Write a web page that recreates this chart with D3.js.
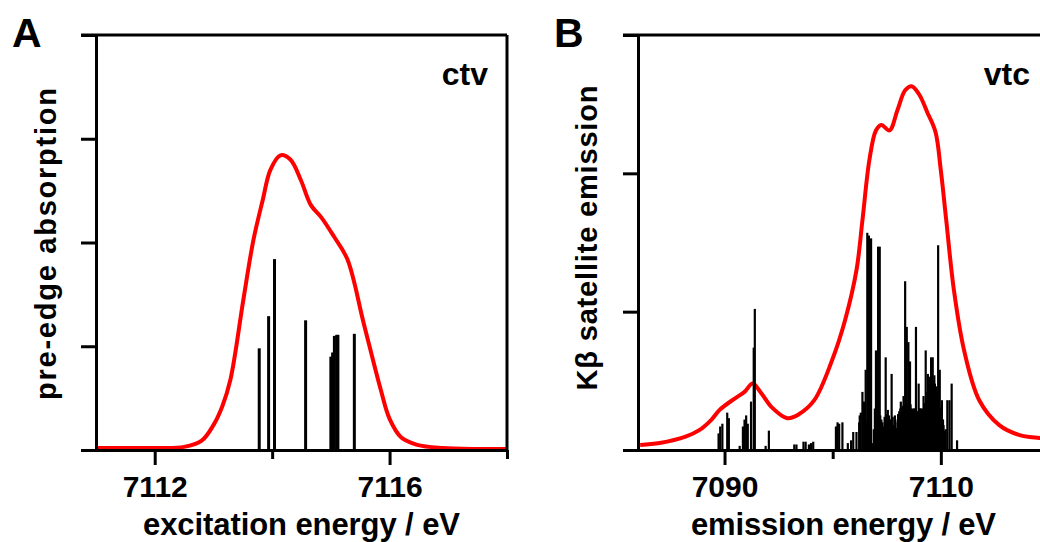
<!DOCTYPE html>
<html>
<head>
<meta charset="utf-8">
<script src="https://cdn.jsdelivr.net/npm/d3@7"></script>
<style>
  body { margin: 0; background: #fff; }
  svg text { font-family: "Liberation Sans", Arial, sans-serif; font-weight: bold; fill: #000; }
</style>
</head>
<body>
<div id="chart"></div>
<script>
// panel A: ctv pre-edge
const ctvStickE = [7113.78, 7113.94, 7114.04, 7114.57, 7115.00, 7115.03, 7115.06, 7115.10, 7115.12, 7115.40];
const ctvStickI = [0.98, 1.29, 1.84, 1.25, 0.90, 0.94, 1.10, 1.11, 1.11, 1.12];
const ctvCurveE = [7111.0, 7112.0, 7112.5, 7112.8, 7113.0, 7113.15, 7113.29, 7113.51, 7113.68, 7113.84, 7113.97, 7114.14,
    7114.31, 7114.49, 7114.66, 7114.84, 7115.05, 7115.28, 7115.56, 7115.85, 7116.0, 7116.2, 7116.47, 7116.9, 7117.5, 7118.0];
const ctvCurveI = [0.02, 0.02, 0.03, 0.09, 0.24, 0.42, 0.68, 1.45, 2.02, 2.41, 2.70, 2.84,
    2.80, 2.60, 2.36, 2.24, 2.06, 1.84, 1.22, 0.58, 0.30, 0.12, 0.05, 0.02, 0.01, 0.01];
const ctvMajorTicks = [7112, 7116];
const ctvMinorTicks = [7114, 7118];

// panel B: vtc emission (last rows = dense low forest under the main band)
const vtcStickE = [7089.45, 7089.6, 7089.8, 7090.25, 7090.4, 7091.4, 7091.7, 7091.85, 7092.0, 7092.15, 7092.45, 7092.7, 7092.8,
    7093.8, 7094.1, 7096.45, 7096.65, 7097.3, 7097.5, 7097.8, 7098.0, 7098.2, 7100.3, 7100.45, 7100.6, 7100.9, 7101.4, 7101.7,
    7101.9, 7102.2, 7102.6, 7102.75, 7102.9, 7103.05, 7103.2, 7103.35, 7103.55, 7103.7, 7104.0, 7104.2, 7104.35, 7104.5, 7104.7,
    7104.9, 7105.1, 7105.3, 7105.45, 7105.65, 7105.9, 7106.0, 7106.1, 7106.2, 7106.3, 7106.4, 7106.55, 7106.7, 7106.85, 7106.95,
    7107.0, 7107.1, 7107.15, 7107.3, 7107.45, 7107.55, 7107.7, 7107.8, 7107.9, 7107.95, 7108.05, 7108.15, 7108.3, 7108.4, 7108.5,
    7108.6, 7108.7, 7108.8, 7108.9, 7108.95, 7109.0, 7109.1, 7109.2, 7109.25, 7109.35, 7109.4, 7109.55, 7109.65, 7109.75, 7109.9,
    7110.0, 7110.1, 7110.2, 7110.3, 7110.45, 7110.6, 7110.8, 7111.0, 7111.5,
    7102.45, 7102.5, 7103.1, 7103.8, 7103.9, 7104.1, 7104.25, 7104.4, 7104.6, 7104.8, 7105.0, 7105.2, 7105.4, 7105.55,
    7105.75, 7105.8, 7106.05, 7106.15, 7106.25, 7106.45, 7106.5, 7106.6, 7106.75, 7106.8, 7106.9, 7107.05, 7107.2, 7107.25,
    7107.35, 7107.4, 7107.5, 7107.6, 7107.65, 7107.75, 7107.85, 7108.0, 7108.1, 7108.2, 7108.25, 7108.35, 7108.45, 7108.55,
    7108.65, 7108.75, 7108.85, 7109.05, 7109.15, 7109.3, 7109.45, 7109.5, 7109.6, 7109.7, 7109.8, 7109.85, 7109.95, 7110.05,
    7110.15, 7110.25, 7110.35, 7110.4];
const vtcStickI = [0.12, 0.17, 0.19, 0.27, 0.23, 0.03, 0.17, 0.22, 0.25, 0.19, 0.35, 0.74, 1.02,
    0.03, 0.14, 0.04, 0.04, 0.06, 0.06, 0.04, 0.05, 0.06, 0.17, 0.20, 0.19, 0.20, 0.05, 0.07,
    0.13, 0.13, 0.27, 0.42, 0.35, 0.58, 1.57, 1.55, 1.53, 0.05, 0.72, 1.47, 1.47, 0.22, 0.17,
    0.67, 0.29, 0.22, 0.55, 0.18, 0.16, 0.20, 0.14, 0.24, 0.35, 0.27, 0.39, 1.22, 0.89, 0.30,
    0.78, 0.32, 0.64, 0.29, 0.27, 0.30, 0.89, 0.28, 0.26, 0.48, 0.30, 0.28, 0.27, 0.39, 0.30,
    0.72, 0.35, 0.55, 0.40, 0.53, 0.45, 0.67, 0.50, 0.67, 0.45, 0.54, 0.46, 0.40, 1.48, 0.58,
    0.30, 0.36, 0.22, 0.14, 0.15, 0.36, 0.36, 0.48, 0.07,
    0.20, 0.25, 0.20, 0.15, 0.30, 0.35, 0.30, 0.25, 0.20, 0.24, 0.26, 0.25, 0.22, 0.24,
    0.25, 0.22, 0.26, 0.28, 0.30, 0.30, 0.32, 0.30, 0.33, 0.30, 0.32, 0.34, 0.33, 0.30,
    0.28, 0.30, 0.28, 0.30, 0.27, 0.27, 0.28, 0.28, 0.30, 0.30, 0.28, 0.30, 0.32, 0.34,
    0.36, 0.42, 0.45, 0.50, 0.52, 0.50, 0.48, 0.45, 0.42, 0.40, 0.35, 0.32, 0.30, 0.25,
    0.22, 0.18, 0.12, 0.10];
const vtcCurveE = [7082.2, 7084.0, 7086.4, 7087.7, 7088.8, 7089.55, 7090.9, 7091.85, 7092.6, 7093.4, 7094.35, 7095.8, 7096.9,
    7098.3, 7099.95, 7101.15, 7102.2, 7102.75, 7103.4, 7104.0, 7104.5, 7105.25, 7106.0, 7106.7, 7107.3, 7108.0, 7108.75,
    7109.5, 7110.0, 7110.5, 7111.2, 7112.15, 7113.55, 7115.4, 7117.2, 7119.1, 7120.0];
const vtcCurveI = [0.036, 0.05, 0.096, 0.145, 0.22, 0.29, 0.37, 0.42, 0.48, 0.41, 0.31, 0.23, 0.26,
    0.36, 0.65, 0.94, 1.30, 1.66, 2.10, 2.31, 2.35, 2.31, 2.46, 2.60, 2.63, 2.57, 2.44,
    2.30, 2.02, 1.66, 1.16, 0.72, 0.36, 0.18, 0.11, 0.087, 0.08];
const vtcMajorTicks = [7090, 7110];
const vtcMinorTicks = [7100, 7120];

const svg = d3.select('#chart')
    .append('svg')
    .attr('width', 1040)
    .attr('height', 542);

function drawPanel(opt) {
    const x = d3.scaleLinear().domain(opt.xDomain).range([opt.left, opt.left + 411]);
    const y = d3.scaleLinear().domain([0, opt.yMax]).range([450, 35]);
    const g = svg.append('g');

    // red envelope
    const curve = opt.curveE.map((e, i) => ({e: e, v: opt.curveI[i]}));
    g.append('path')
        .datum(curve)
        .attr('fill', 'none')
        .attr('stroke', '#ff0000')
        .attr('stroke-width', 4)
        .attr('stroke-linejoin', 'round')
        .attr('d', d3.line()
            .x(d => x(d.e))
            .y(d => y(d.v))
            .curve(d3.curveCatmullRom.alpha(0.5)));

    // sticks
    const sticks = opt.stickE.map((e, i) => ({e: e, v: opt.stickI[i]}));
    g.selectAll('line.stick')
        .data(sticks)
        .enter()
        .append('line')
        .attr('class', 'stick')
        .attr('x1', d => x(d.e))
        .attr('x2', d => x(d.e))
        .attr('y1', y(0))
        .attr('y2', d => y(d.v))
        .attr('stroke', '#000')
        .attr('stroke-width', opt.stickWidth);

    // frame: top and right
    g.append('line')
        .attr('x1', opt.left - 15).attr('x2', opt.left + 411)
        .attr('y1', 35).attr('y2', 35)
        .attr('stroke', '#000').attr('stroke-width', 3);
    g.append('line')
        .attr('x1', opt.left + 411).attr('x2', opt.left + 411)
        .attr('y1', 35).attr('y2', 450)
        .attr('stroke', '#000').attr('stroke-width', 3);

    // axes
    const yAxis = g.append('g')
        .attr('transform', `translate(${opt.left},0)`)
        .call(d3.axisLeft(y)
            .tickValues(d3.range(0, opt.yMax + 1))
            .tickSize(15)
            .tickSizeOuter(0)
            .tickFormat(''));

    const xMinor = g.append('g')
        .attr('transform', 'translate(0,450)')
        .call(d3.axisBottom(x)
            .tickValues(opt.minorTicks)
            .tickSize(9)
            .tickSizeOuter(0)
            .tickFormat(''));

    const xAxis = g.append('g')
        .attr('transform', 'translate(0,450)')
        .call(d3.axisBottom(x)
            .tickValues(opt.majorTicks)
            .tickSize(15)
            .tickSizeOuter(0)
            .tickPadding(11)
            .tickFormat(d3.format('d')));

    [yAxis, xMinor, xAxis].forEach(a => {
        a.select('.domain').attr('stroke-width', 3);
        a.selectAll('.tick line').attr('stroke-width', 3);
    });
    xAxis.select('.domain').attr('d', `M${opt.left - 15},0.5H${opt.left + 411}`);
    xAxis.selectAll('.tick text')
        .style('font-size', '30px');

    // labels
    g.append('text')
        .attr('x', opt.left + 205.5)
        .attr('y', 535)
        .attr('text-anchor', 'middle')
        .style('font-size', '31px')
        .attr('textLength', opt.xTitleLen)
        .text(opt.xTitle);

    g.append('text')
        .attr('transform', `translate(${opt.yTitleX},${opt.yTitleY}) rotate(-90)`)
        .attr('text-anchor', 'middle')
        .style('font-size', '29px')
        .attr('textLength', opt.yTitleLen)
        .text(opt.yTitle);

    g.append('text')
        .attr('x', opt.left + 392)
        .attr('y', 85)
        .attr('text-anchor', 'end')
        .style('font-size', '32px')
        .text(opt.tag);

    g.append('text')
        .attr('x', opt.letterX)
        .attr('y', 47)
        .style('font-size', '41px')
        .text(opt.letter);
}

drawPanel({
    left: 96, xDomain: [7111, 7118], yMax: 4,
    curveE: ctvCurveE, curveI: ctvCurveI,
    stickE: ctvStickE, stickI: ctvStickI, stickWidth: 3,
    majorTicks: ctvMajorTicks, minorTicks: ctvMinorTicks,
    xTitle: 'excitation energy / eV', xTitleLen: 317,
    yTitle: 'pre-edge absorption', yTitleLen: 312, yTitleX: 56, yTitleY: 244,
    tag: 'ctv', letter: 'A', letterX: 12
});

drawPanel({
    left: 638, xDomain: [7082, 7120], yMax: 3,
    curveE: vtcCurveE, curveI: vtcCurveI,
    stickE: vtcStickE, stickI: vtcStickI, stickWidth: 2.2,
    majorTicks: vtcMajorTicks, minorTicks: vtcMinorTicks,
    xTitle: 'emission energy / eV', xTitleLen: 305,
    yTitle: 'Kβ satellite emission', yTitleLen: 305, yTitleX: 597, yTitleY: 238,
    tag: 'vtc', letter: 'B', letterX: 554
});
</script>
</body>
</html>
